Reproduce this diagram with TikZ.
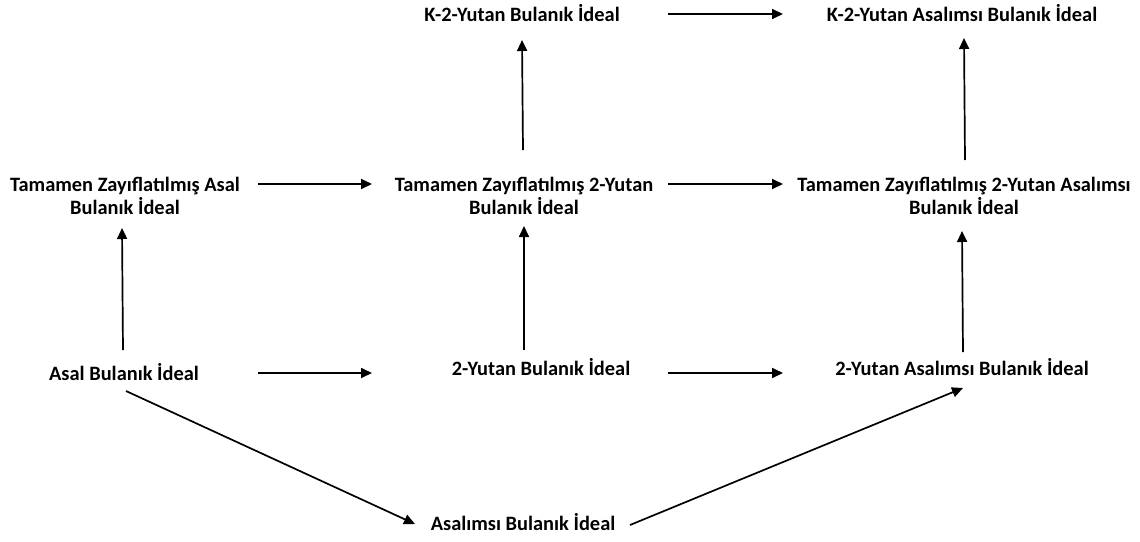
\documentclass[tikz,border=0pt]{standalone}
\usepackage{fontspec}
\setmainfont{Carlito}
\usetikzlibrary{arrows.meta}
\begin{document}
\begin{tikzpicture}[x=1pt,y=-1pt,
  lbl/.style={font=\fontsize{20.4}{23}\selectfont\bfseries, align=center, inner sep=0pt, text=black},
  arr/.style={line width=1.7pt, -{Triangle[length=11pt,width=10pt]}}]
\useasboundingbox[fill=white] (0,0) rectangle (1140,541);
% nodes
\node[lbl] (k2) at (522,13) {K-2-Yutan Bulanık İdeal};
\node[lbl] (k2a) at (962,13) {K-2-Yutan Asalımsı Bulanık İdeal};
\node[lbl] (tza) at (125,196) {Tamamen Zayıflatılmış Asal\\Bulanık İdeal};
\node[lbl] (tz2) at (524,196) {Tamamen Zayıflatılmış 2-Yutan\\Bulanık İdeal};
\node[lbl] (tz2a) at (964,196) {Tamamen Zayıflatılmış 2-Yutan Asalımsı\\Bulanık İdeal};
\node[lbl] (ab) at (124,372) {Asal Bulanık İdeal};
\node[lbl] (y2) at (541,367) {2-Yutan Bulanık İdeal};
\node[lbl] (y2a) at (962,367) {2-Yutan Asalımsı Bulanık İdeal};
\node[lbl] (asb) at (523,522) {Asalımsı Bulanık İdeal};
% connector end points
\coordinate (a1s) at (668,14);  \coordinate (a1e) at (783,14);
\coordinate (a2s) at (523,150); \coordinate (a2e) at (522,40);
\coordinate (a3s) at (965,160); \coordinate (a3e) at (964,38);
\coordinate (a4s) at (258,184); \coordinate (a4e) at (372,184);
\coordinate (a5s) at (668,184); \coordinate (a5e) at (783,184);
\coordinate (a6s) at (123,350); \coordinate (a6e) at (122,228);
\coordinate (a7s) at (524,350); \coordinate (a7e) at (524,226);
\coordinate (a8s) at (963,352); \coordinate (a8e) at (962,231);
\coordinate (a9s) at (258,373); \coordinate (a9e) at (372,373);
\coordinate (a10s) at (668,373); \coordinate (a10e) at (783,373);
\coordinate (a11s) at (126,391); \coordinate (a11e) at (415,524);
\coordinate (a12s) at (630,525); \coordinate (a12e) at (963,388);
% connectors
\draw[arr] (a1s) -- (a1e);
\draw[arr] (a2s) -- (a2e);
\draw[arr] (a3s) -- (a3e);
\draw[arr] (a4s) -- (a4e);
\draw[arr] (a5s) -- (a5e);
\draw[arr] (a6s) -- (a6e);
\draw[arr] (a7s) -- (a7e);
\draw[arr] (a8s) -- (a8e);
\draw[arr] (a9s) -- (a9e);
\draw[arr] (a10s) -- (a10e);
\draw[arr] (a11s) -- (a11e);
\draw[arr] (a12s) -- (a12e);
\end{tikzpicture}
\end{document}
